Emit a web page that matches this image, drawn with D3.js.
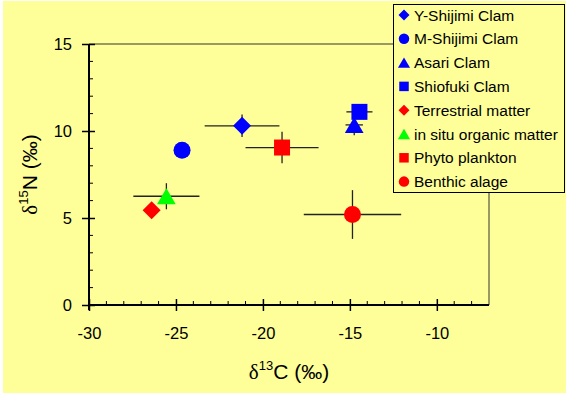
<!DOCTYPE html>
<html><head><meta charset="utf-8">
<script src="https://cdn.jsdelivr.net/npm/d3@7/dist/d3.min.js"></script>
<style>body{margin:0;background:#fff}svg{display:block}text{font-family:"Liberation Sans",Arial,sans-serif}</style>
</head><body>
<svg id="c" width="566" height="394"></svg>
<script>
const names = ["Y-Shijimi Clam","M-Shijimi Clam","Asari Clam","Shiofuki Clam","Terrestrial matter","in situ organic matter","Phyto plankton","Benthic alage"];
const shapes = ["diamond","circle","triangle","square","diamond","triangle","square","circle"];
const colors = ["#0000FF","#0000FF","#0000FF","#0000FF","#FF0000","#00FF00","#FF0000","#FF0000"];
const xVals = [-21.2,-24.65,-14.75,-14.45,-26.4,-25.55,-18.9,-14.85];
const yVals = [10.3,8.9,10.35,11.1,5.45,6.25,9.05,5.2];
const xErr = [2.15,0,0.5,0.75,0,1.9,2.1,2.8];
const yErr = [0.65,0,0.6,0.4,0,0.75,0.9,1.4];
const xTicks = [-30,-25,-20,-15,-10];
const yTicks = [0,5,10,15];

const svg = d3.select("#c");
svg.append("rect").attr("x",3).attr("y",1).attr("width",563).attr("height",392).attr("fill","#FFFF99");

const L=89, R=489, T=44, B=305;
const x = d3.scaleLinear().domain([-30,-7]).range([L,R]);
const y = d3.scaleLinear().domain([0,15]).range([B,T]);

// frame top/right
svg.append("line").attr("x1",L).attr("x2",R).attr("y1",T).attr("y2",T).attr("stroke","#333").attr("stroke-width",1);
svg.append("line").attr("x1",R).attr("x2",R).attr("y1",T).attr("y2",B).attr("stroke","#333").attr("stroke-width",1);

// minor ticks
const gx = svg.append("g");
d3.range(-29,-7).filter(v=>v%5!==0).forEach(v=>{
  gx.append("line").attr("x1",x(v)).attr("x2",x(v)).attr("y1",B).attr("y2",B-4).attr("stroke","#000").attr("stroke-width",1);
});
d3.range(1,15).filter(v=>v%5!==0).forEach(v=>{
  gx.append("line").attr("x1",L).attr("x2",L+4).attr("y1",y(v)).attr("y2",y(v)).attr("stroke","#000").attr("stroke-width",1);
});

// axes
const fmt = d => String(d);
const xAxis = d3.axisBottom(x).tickValues(xTicks).tickFormat(fmt).tickSize(6).tickPadding(10);
const gxa = svg.append("g").attr("transform",`translate(0,${B})`).call(xAxis);
gxa.select(".domain").remove();
gxa.selectAll(".tick line").attr("y1",-6).attr("y2",6).attr("stroke","#000").attr("stroke-width",1.5);
gxa.selectAll(".tick text").attr("font-size",16.5).attr("fill","#000").attr("font-family","Liberation Sans, Arial, sans-serif").attr("y",34).attr("dy",null);

const yAxis = d3.axisLeft(y).tickValues(yTicks).tickFormat(fmt).tickSize(6).tickPadding(10);
const gya = svg.append("g").attr("transform",`translate(${L},0)`).call(yAxis);
gya.select(".domain").remove();
gya.selectAll(".tick line").attr("x1",-7).attr("x2",6).attr("stroke","#000").attr("stroke-width",1.5);
gya.selectAll(".tick text").attr("font-size",16.5).attr("fill","#000").attr("font-family","Liberation Sans, Arial, sans-serif").attr("x",-17);

svg.append("line").attr("x1",L).attr("x2",R).attr("y1",B).attr("y2",B).attr("stroke","#000").attr("stroke-width",2);
svg.append("line").attr("x1",L).attr("x2",L).attr("y1",T).attr("y2",B+5).attr("stroke","#000").attr("stroke-width",2);

// shapes
function shapePath(type, s){
  const h=s/2;
  if(type==="circle") return `M${-h},0A${h},${h} 0 1,0 ${h},0A${h},${h} 0 1,0 ${-h},0Z`;
  if(type==="square"){const q=s*0.5; return `M${-q},${-q}H${q}V${q}H${-q}Z`;}
  if(type==="diamond") return `M0,${-h}L${h},0L0,${h}L${-h},0Z`;
  if(type==="triangle"){const w=s*0.55, hh=s*0.47; return `M0,${-hh}L${w},${hh}L${-w},${hh}Z`;}
}
const sizes = {circle:17,square:16,diamond:18,triangle:17};

// error bars
const ge = svg.append("g").attr("stroke","#222").attr("stroke-width",1.3);
names.forEach((n,i)=>{
  if(xErr[i]>0) ge.append("line").attr("x1",x(xVals[i]-xErr[i])).attr("x2",x(xVals[i]+xErr[i])).attr("y1",y(yVals[i])).attr("y2",y(yVals[i]));
  if(yErr[i]>0) ge.append("line").attr("x1",x(xVals[i])).attr("x2",x(xVals[i])).attr("y1",y(yVals[i]-yErr[i])).attr("y2",y(yVals[i]+yErr[i]));
});
// markers
names.forEach((n,i)=>{
  svg.append("path").attr("d",shapePath(shapes[i],sizes[shapes[i]]))
    .attr("transform",`translate(${x(xVals[i])},${y(yVals[i])})`).attr("fill",colors[i]);
});

// axis titles
const xt = svg.append("text").attr("x",(L+R)/2).attr("y",379).attr("text-anchor","middle").attr("font-size",21).attr("fill","#000");
xt.append("tspan").attr("font-family","Liberation Serif, Times New Roman, serif").text("δ");
xt.append("tspan").attr("font-size",13).attr("dy",-9).text("13");
xt.append("tspan").attr("dy",9).text("C (‰)");

const yt = svg.append("text").attr("transform",`translate(37,${(T+B)/2}) rotate(-90)`).attr("text-anchor","middle").attr("font-size",21).attr("fill","#000");
yt.append("tspan").attr("font-family","Liberation Serif, Times New Roman, serif").text("δ");
yt.append("tspan").attr("font-size",13).attr("dy",-9).text("15");
yt.append("tspan").attr("dy",9).text("N (‰)");

// legend
const lg = svg.append("g");
lg.append("rect").attr("x",393.5).attr("y",4.5).attr("width",171).attr("height",188).attr("fill","#FFFF99").attr("stroke","#000").attr("stroke-width",1);
const lsizes = {circle:10.5,square:9.5,diamond:11,triangle:11};
names.forEach((n,i)=>{
  const yy = 15 + i*23.8;
  lg.append("path").attr("d",shapePath(shapes[i],lsizes[shapes[i]])).attr("transform",`translate(404,${yy})`).attr("fill",colors[i]);
  lg.append("text").attr("x",414).attr("y",yy).attr("dy","0.36em").attr("font-size",15.5).attr("fill","#000").text(n);
});
</script>
</body></html>
